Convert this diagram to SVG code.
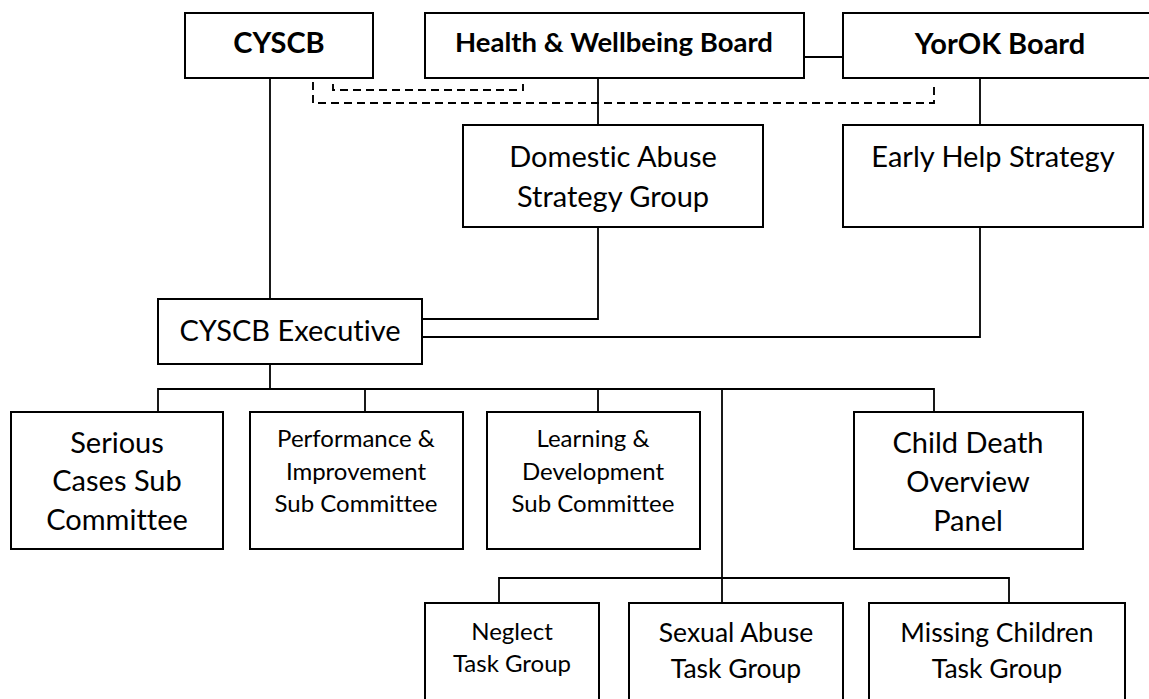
<svg xmlns="http://www.w3.org/2000/svg" width="1149" height="699" viewBox="0 0 1149 699">
  <style>
    .box { fill: #fff; stroke: #000; stroke-width: 2; }
    .t { font-family: Lato, "Liberation Sans", sans-serif; fill: #000; text-anchor: middle; font-variant-ligatures: none; }
    .b { font-weight: bold; }
    .l { font-size: 29px; }
    .m { font-size: 26.5px; }
    .hw { font-size: 27.5px; }
    .s { font-size: 24px; }
    .link { fill: none; stroke: #000; stroke-width: 1.8; }
    .dash { fill: none; stroke: #000; stroke-width: 1.9; stroke-dasharray: 8 5; }
  </style>
  <rect width="1149" height="699" fill="#fff"/>

  <g id="connectors">
    <path class="link" d="M804 57 H843"/>
    <path class="link" d="M270 78 V299"/>
    <path class="link" d="M598 78 V125"/>
    <path class="link" d="M980 78 V125"/>
    <path class="link" d="M598 227 V319 H422"/>
    <path class="link" d="M980 227 V337 H422"/>
    <path class="link" d="M270 364 V389"/>
    <path class="link" d="M158 412 V389 H934 V412"/>
    <path class="link" d="M365 389 V412"/>
    <path class="link" d="M598 389 V412"/>
    <path class="link" d="M722 389 V603"/>
    <path class="link" d="M499 603 V578 H1009 V603"/>
    <path class="dash" d="M333 84 V90 H523 V84"/>
    <path class="dash" d="M313 82 V103 H934 V82"/>
  </g>

  <g id="cyscb">
    <rect class="box" x="185" y="13" width="188" height="65"/>
    <text class="t b l" x="279" y="53">CYSCB</text>
  </g>
  <g id="health-wellbeing-board">
    <rect class="box" x="425" y="13" width="379" height="65"/>
    <text class="t b hw" x="614" y="52">Health &amp; Wellbeing Board</text>
  </g>
  <g id="yorok-board">
    <rect class="box" x="843" y="13" width="320" height="65"/>
    <text class="t b l" x="1000" y="54">YorOK Board</text>
  </g>
  <g id="domestic-abuse">
    <rect class="box" x="463" y="125" width="300" height="102"/>
    <text class="t l" x="613" y="167">Domestic Abuse</text>
    <text class="t l" x="613" y="207">Strategy Group</text>
  </g>
  <g id="early-help">
    <rect class="box" x="843" y="125" width="300" height="102"/>
    <text class="t l" x="993" y="167">Early Help Strategy</text>
  </g>
  <g id="cyscb-executive">
    <rect class="box" x="158" y="299" width="264" height="65"/>
    <text class="t l" x="290" y="341">CYSCB Executive</text>
  </g>
  <g id="serious-cases">
    <rect class="box" x="11" y="412" width="212" height="137"/>
    <text class="t l" x="117" y="453">Serious</text>
    <text class="t l" x="117" y="491">Cases Sub</text>
    <text class="t l" x="117" y="530">Committee</text>
  </g>
  <g id="performance-improvement">
    <rect class="box" x="250" y="412" width="213" height="137"/>
    <text class="t s" x="356" y="447">Performance &amp;</text>
    <text class="t s" x="356" y="480">Improvement</text>
    <text class="t s" x="356" y="512">Sub Committee</text>
  </g>
  <g id="learning-development">
    <rect class="box" x="487" y="412" width="213" height="137"/>
    <text class="t s" x="593" y="447">Learning &amp;</text>
    <text class="t s" x="593" y="480">Development</text>
    <text class="t s" x="593" y="512">Sub Committee</text>
  </g>
  <g id="child-death-overview">
    <rect class="box" x="854" y="412" width="229" height="137"/>
    <text class="t l" x="968" y="453">Child Death</text>
    <text class="t l" x="968" y="492">Overview</text>
    <text class="t l" x="968" y="531">Panel</text>
  </g>
  <g id="neglect">
    <rect class="box" x="425" y="603" width="174" height="110"/>
    <text class="t s" x="512" y="640">Neglect</text>
    <text class="t s" x="512" y="672">Task Group</text>
  </g>
  <g id="sexual-abuse">
    <rect class="box" x="629" y="603" width="214" height="110"/>
    <text class="t m" x="736" y="642">Sexual Abuse</text>
    <text class="t m" x="736" y="678">Task Group</text>
  </g>
  <g id="missing-children">
    <rect class="box" x="869" y="603" width="256" height="110"/>
    <text class="t m" x="997" y="642">Missing Children</text>
    <text class="t m" x="997" y="678">Task Group</text>
  </g>
</svg>
